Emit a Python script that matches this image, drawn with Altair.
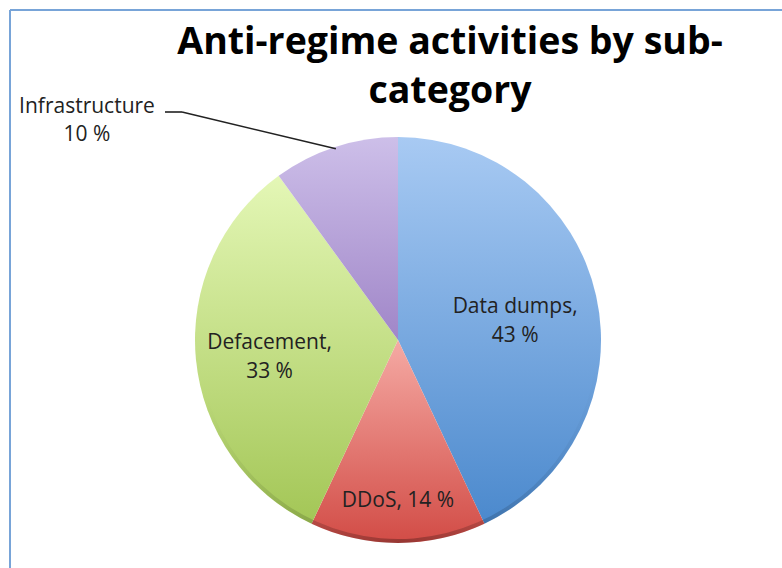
import math
import altair as alt
import pandas as pd

# Slice data, clockwise from 12 o'clock
categories = ["Data dumps", "DDoS", "Defacement", "Infrastructure"]
shares = [43, 14, 33, 10]
label_separators = [",\n", ", ", ",\n", "\n"]

# Per-slice vertical gradient (light at top, deeper at bottom)
top_colors = ["#a8caf3", "#f5aaa4", "#e4f7b6", "#cdbfe9"]
bottom_colors = ["#4b89cd", "#d24c46", "#a3c656", "#a086c8"]

title_lines = ["Anti-regime activities by sub-", "category"]

W, H = 782, 568
CX, CY, R = 398, 340, 203
FONT = "Open Sans"
BORDER = "#78a4d8"
LABEL_SIZE = 21

df = pd.DataFrame({
    "category": categories,
    "share": shares,
    "sep": label_separators,
    "order": list(range(len(categories))),
})

base = (
    alt.Chart(df)
    .transform_window(cum="sum(share)", sort=[alt.SortField("order")], frame=[None, 0])
    .transform_calculate(
        start="datum.cum - datum.share",
        mid="datum.cum - datum.share / 2",
        label="datum.category + datum.sep + datum.share + ' %'",
    )
)

theta_scale = alt.Scale(domain=[0, 100], range=[0, 2 * math.pi])


def gradient(top, bottom):
    return alt.LinearGradient(
        gradient="linear",
        stops=[alt.GradientStop(offset=0, color=top), alt.GradientStop(offset=1, color=bottom)],
        x1=0, x2=0, y1=0, y2=1,
    )


layers = []
for cat, top, bottom in zip(categories, top_colors, bottom_colors):
    layers.append(
        base.transform_filter(alt.datum.category == cat)
        .mark_arc(radius=R, fill=gradient(top, bottom), stroke=None)
        .encode(
            theta=alt.Theta("start:Q", scale=theta_scale, stack=None),
            theta2="cum:Q",
            x=alt.value(CX),
            y=alt.value(CY),
        )
    )

# Darkened rim along the lower edge for a bevelled look
rim = alt.LinearGradient(
    gradient="linear",
    stops=[
        alt.GradientStop(offset=0, color="rgba(0,0,0,0)"),
        alt.GradientStop(offset=0.5, color="rgba(0,0,0,0.28)"),
        alt.GradientStop(offset=1, color="rgba(0,0,0,0)"),
    ],
    x1=0, x2=1, y1=0, y2=0,
)
layers.append(
    alt.Chart(pd.DataFrame({"k": [0]}))
    .mark_arc(radius=R, radius2=R - 4, fill=rim)
    .encode(
        theta=alt.value(math.pi * 0.55),
        theta2=alt.value(math.pi * 1.4),
        x=alt.value(CX),
        y=alt.value(CY),
    )
)

# In-slice labels: (category, radius, dy)
inside = [("Data dumps", 120, -7), ("Defacement", 129, -9), ("DDoS", 160, 1)]
for cat, rad, dy in inside:
    layers.append(
        base.transform_filter(alt.datum.category == cat)
        .mark_text(font=FONT, fontSize=LABEL_SIZE, color="#222222", align="center",
                   baseline="middle", lineBreak="\n", lineHeight=29, dy=dy)
        .encode(
            theta=alt.Theta("mid:Q", scale=theta_scale, stack=None),
            radius=alt.value(rad),
            x=alt.value(CX),
            y=alt.value(CY),
            text="label:N",
        )
    )

# Outside label for the small slice, with leader line to the rim
infra = base.transform_filter(alt.datum.category == "Infrastructure").transform_calculate(
    ex=f"{CX} + {R - 2} * sin(datum.mid / 100 * 2 * PI)",
    ey=f"{CY} - {R - 2} * cos(datum.mid / 100 * 2 * PI)",
)
layers.append(
    infra.mark_text(font=FONT, fontSize=LABEL_SIZE, color="#222222", align="center",
                    baseline="middle", lineBreak="\n", lineHeight=28)
    .encode(x=alt.value(87), y=alt.value(107), text="label:N")
)
layers.append(
    infra.mark_rule(color="#222222", strokeWidth=1.6)
    .encode(
        x=alt.X("ex:Q", scale=None),
        y=alt.Y("ey:Q", scale=None),
        x2=alt.value(182),
        y2=alt.value(112),
    )
)
layers.append(
    infra.mark_rule(color="#222222", strokeWidth=1.6)
    .encode(x=alt.value(165), x2=alt.value(182), y=alt.value(112))
)

# Title, drawn as a two-line text block
layers.append(
    alt.Chart(pd.DataFrame({"t": ["\n".join(title_lines)]}))
    .mark_text(font=FONT, fontSize=37.5, fontWeight="bold", color="#000000",
               align="center", baseline="alphabetic", lineBreak="\n", lineHeight=49)
    .encode(x=alt.value(450), y=alt.value(54), text="t:N")
)

# Frame lines along the top and left edges
layers.append(
    alt.Chart(pd.DataFrame({"k": [0]})).mark_rule(color=BORDER, strokeWidth=2)
    .encode(x=alt.value(10), x2=alt.value(W), y=alt.value(10))
)
layers.append(
    alt.Chart(pd.DataFrame({"k": [0]})).mark_rule(color=BORDER, strokeWidth=2)
    .encode(x=alt.value(10), y=alt.value(10), y2=alt.value(H))
)

chart = (
    alt.layer(*layers)
    .properties(width=W, height=H, padding=0, autosize=alt.AutoSizeParams(type="none"),
                background="#ffffff")
    .configure_view(strokeWidth=0)
)

chart.save("out.html", embed_options={"renderer": "svg", "actions": False})
